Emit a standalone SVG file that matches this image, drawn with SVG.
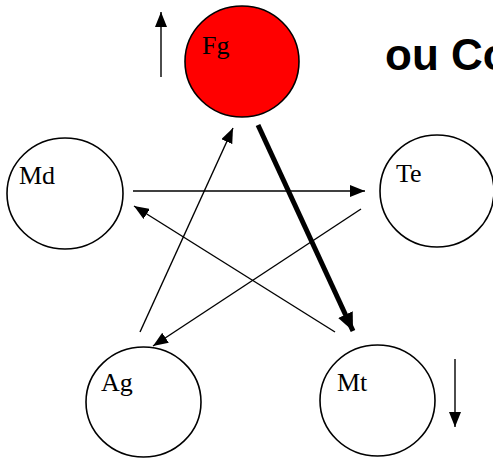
<svg xmlns="http://www.w3.org/2000/svg" width="493" height="458" viewBox="0 0 493 458">
<style>
.node{fill:#fff;stroke:#000;stroke-width:1.6}
.lbl{font-family:"Liberation Serif","Times New Roman",serif;font-size:26px;fill:#000}
.edge{stroke:#000;stroke-width:1.4;fill:none;marker-end:url(#ah)}
.thick{stroke:#000;stroke-width:5;fill:none;marker-end:url(#ahb)}
</style>
<defs>
<marker id="ah" markerUnits="userSpaceOnUse" markerWidth="15" markerHeight="12" refX="15" refY="6" orient="auto"><path d="M0,0 L15,6 L0,12 z" fill="#000"/></marker>
<marker id="ahb" markerUnits="userSpaceOnUse" markerWidth="18" markerHeight="16" refX="18" refY="8" orient="auto"><path d="M0,0 L18,8 L0,16 z" fill="#000"/></marker>
</defs>
<rect width="493" height="458" fill="#fff"/>
<text x="385" y="70" font-family="'Liberation Sans',Arial,sans-serif" font-weight="bold" font-size="44">ou Co</text>
<g id="Fg"><ellipse cx="242" cy="61.5" rx="57" ry="55.5" class="node" style="fill:#ff0000"/><text x="202" y="54" class="lbl">Fg</text></g>
<g id="Md"><ellipse cx="65" cy="193.5" rx="58" ry="55.5" class="node"/><text x="19" y="184" class="lbl">Md</text></g>
<g id="Te"><ellipse cx="437" cy="191" rx="57" ry="56" class="node"/><text x="396" y="182" class="lbl">Te</text></g>
<g id="Ag"><ellipse cx="143.5" cy="402" rx="57.5" ry="55" class="node"/><text x="101" y="391" class="lbl">Ag</text></g>
<g id="Mt"><ellipse cx="377.5" cy="400.5" rx="57.5" ry="55.5" class="node"/><text x="337" y="391" class="lbl">Mt</text></g>
<g id="connectors">
<line x1="161" y1="77" x2="161" y2="12" class="edge"/>
<line x1="455" y1="359" x2="455" y2="427" class="edge"/>
<line x1="133" y1="191" x2="365" y2="191" class="edge"/>
<line x1="140" y1="332" x2="233" y2="128" class="edge"/>
<line x1="361" y1="209" x2="153" y2="346" class="edge"/>
<line x1="335" y1="332" x2="134" y2="206" class="edge"/>
<line x1="258" y1="125" x2="353" y2="331" class="thick"/>
</g>
</svg>
